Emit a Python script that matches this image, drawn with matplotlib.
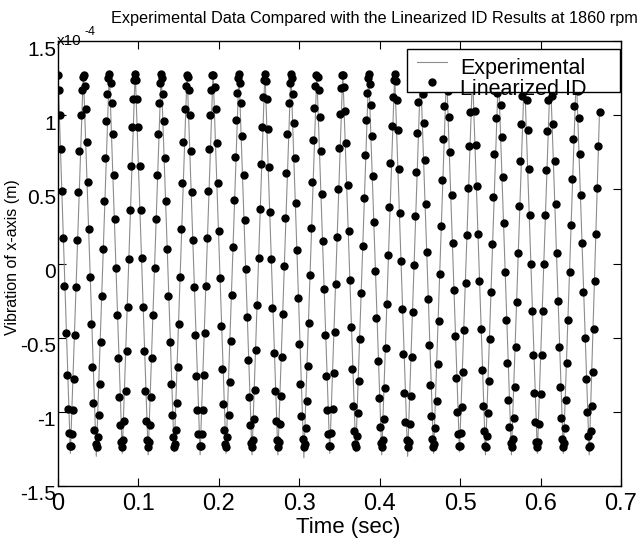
import numpy as np
import matplotlib
matplotlib.use('Agg')
import matplotlib.pyplot as plt
from matplotlib.patches import Rectangle
from matplotlib.lines import Line2D
from matplotlib.ticker import FuncFormatter
from matplotlib.transforms import ScaledTranslation

plt.rcParams['font.family'] = ['Liberation Sans', 'DejaVu Sans']

escala = 1e-4      # valores en unidades de 1e-4 m
fs_id = 750.0      # frecuencia de muestreo de los puntos del modelo (Hz)

# Experimental: vertices (picos y valles) de la traza, tiempo en seg
exp_t = [0.0, 0.0154, 0.0315, 0.0476, 0.0638, 0.0799, 0.0960, 0.1121, 0.1283,
         0.1444, 0.1605, 0.1767, 0.1928, 0.2089, 0.2250, 0.2412, 0.2573, 0.2734,
         0.2896, 0.3057, 0.3218, 0.3379, 0.3541, 0.3702, 0.3863, 0.4025, 0.4186,
         0.4347, 0.4508, 0.4670, 0.4831, 0.4992, 0.5154, 0.5315, 0.5476, 0.5637,
         0.5799, 0.5960, 0.6121, 0.6283, 0.6444, 0.6605, 0.6733]
exp_x = [1.28, -1.28, 1.29, -1.30, 1.30, -1.28, 1.30, -1.29, 1.29, -1.27,
         1.29, -1.29, 1.29, -1.28, 1.29, -1.29, 1.30, -1.29, 1.29, -1.31,
         1.28, -1.28, 1.29, -1.27, 1.29, -1.29, 1.28, -1.30, 1.29, -1.28,
         1.29, -1.27, 1.28, -1.29, 1.29, -1.29, 1.28, -1.28, 1.29, -1.28,
         1.28, -1.29, 1.03]

# Linearized ID: un valor por muestra
id_x = [
    1.27, 1.17, 1.00, 0.77, 0.49, 0.17, -0.15, -0.47, -0.75, -0.98, -1.14, -1.23,
    -1.23, -1.15, -0.99, -0.78, -0.48, -0.16, 0.16, 0.48, 0.76, 1.00, 1.17, 1.26,
    1.27, 1.20, 1.04, 0.82, 0.55, 0.23, -0.09, -0.41, -0.70, -0.94, -1.12, -1.22,
    -1.24, -1.17, -1.02, -0.81, -0.53, -0.22, 0.10, 0.42, 0.71, 0.96, 1.14, 1.25,
    1.28, 1.22, 1.08, 0.87, 0.60, 0.30, -0.03, -0.35, -0.64, -0.90, -1.09, -1.20,
    -1.24, -1.19, -1.06, -0.86, -0.59, -0.29, 0.03, 0.36, 0.66, 0.92, 1.11, 1.24,
    1.28, 1.24, 1.11, 0.92, 0.66, 0.36, 0.04, -0.29, -0.59, -0.86, -1.06, -1.19,
    -1.24, -1.20, -1.09, -0.90, -0.64, -0.35, -0.03, 0.30, 0.60, 0.87, 1.08, 1.22,
    1.28, 1.25, 1.14, 0.96, 0.71, 0.42, 0.10, -0.22, -0.53, -0.81, -1.02, -1.17,
    -1.24, -1.22, -1.12, -0.94, -0.70, -0.41, -0.09, 0.23, 0.54, 0.82, 1.04, 1.20,
    1.27, 1.26, 1.17, 1.00, 0.76, 0.48, 0.16, -0.16, -0.48, -0.76, -0.99, -1.15,
    -1.23, -1.23, -1.15, -0.99, -0.75, -0.47, -0.15, 0.17, 0.49, 0.77, 1.00, 1.17,
    1.27, 1.27, 1.19, 1.04, 0.81, 0.54, 0.22, -0.10, -0.42, -0.71, -0.95, -1.12,
    -1.22, -1.24, -1.17, -1.02, -0.80, -0.52, -0.21, 0.11, 0.43, 0.72, 0.97, 1.15,
    1.25, 1.28, 1.22, 1.08, 0.86, 0.60, 0.29, -0.04, -0.36, -0.65, -0.90, -1.09,
    -1.21, -1.24, -1.19, -1.05, -0.85, -0.58, -0.28, 0.04, 0.37, 0.67, 0.92, 1.12,
    1.24, 1.28, 1.23, 1.11, 0.91, 0.65, 0.35, 0.03, -0.30, -0.60, -0.86, -1.06,
    -1.19, -1.24, -1.20, -1.08, -0.89, -0.63, -0.34, -0.02, 0.31, 0.61, 0.87, 1.08,
    1.22, 1.28, 1.25, 1.14, 0.95, 0.71, 0.41, 0.09, -0.23, -0.54, -0.81, -1.03,
    -1.18, -1.24, -1.22, -1.11, -0.93, -0.69, -0.40, -0.08, 0.24, 0.55, 0.83, 1.05,
    1.20, 1.27, 1.26, 1.17, 0.99, 0.76, 0.47, 0.15, -0.17, -0.48, -0.76, -0.99,
    -1.15, -1.23, -1.23, -1.14, -0.98, -0.74, -0.46, -0.14, 0.18, 0.50, 0.78, 1.01,
    1.18, 1.27, 1.27, 1.19, 1.03, 0.81, 0.53, 0.22, -0.11, -0.43, -0.71, -0.96,
    -1.13, -1.22, -1.24, -1.16, -1.01, -0.79, -0.51, -0.20, 0.12, 0.44, 0.73, 0.97,
    1.15, 1.25, 1.28, 1.21, 1.07, 0.86, 0.59, 0.28, -0.05, -0.37, -0.66, -0.91,
    -1.10, -1.21, -1.24, -1.19, -1.05, -0.84, -0.57, -0.27, 0.06, 0.38, 0.68, 0.93,
    1.12, 1.24, 1.28, 1.23, 1.10, 0.90, 0.64, 0.34, 0.02, -0.31, -0.61, -0.87,
    -1.07, -1.19, -1.24, -1.20, -1.08, -0.89, -0.63, -0.33, -0.01, 0.32, 0.62, 0.88,
    1.09, 1.22, 1.28, 1.25, 1.14, 0.95, 0.70, 0.40, 0.08, -0.24, -0.55, -0.82,
    -1.03, -1.18, -1.24, -1.22, -1.11, -0.93, -0.68, -0.39, -0.07, 0.25, 0.56, 0.84,
    1.06, 1.20, 1.27, 1.26, 1.16, 0.99, 0.75, 0.46, 0.14, -0.18, -0.49, -0.77,
    -1.00, -1.15, -1.23, -1.23, -1.14, -0.97, -0.73, -0.45, -0.13, 0.19, 0.51, 0.79,
    1.02, 1.18, 1.27, 1.27, 1.19, 1.03, 0.80, 0.52, 0.20, -0.12, -0.44, -0.72,
    -0.96, -1.13, -1.23, -1.24, -1.16, -1.01, -0.79, -0.51, -0.19, 0.13, 0.45, 0.74,
    0.98, 1.15, 1.26, 1.28, 1.21, 1.07, 0.85, 0.58, 0.27, -0.06, -0.38, -0.67,
    -0.92, -1.10, -1.21, -1.24, -1.18, -1.04, -0.83, -0.56, -0.26, 0.07, 0.39, 0.69,
    0.94, 1.13, 1.24, 1.28, 1.23, 1.10, 0.90, 0.64, 0.33, 0.00, -0.32, -0.62,
    -0.87, -1.07, -1.20, -1.24, -1.20, -1.08, -0.88, -0.62, -0.32, 0.00, 0.33, 0.63,
    0.89, 1.10, 1.23, 1.28, 1.25, 1.13, 0.94, 0.69, 0.40, 0.07, -0.25, -0.56,
    -0.83, -1.04, -1.18, -1.24, -1.21, -1.11, -0.92, -0.67, -0.38, -0.06, 0.26, 0.57,
    0.84, 1.06, 1.21, 1.27, 1.26, 1.16, 0.98, 0.74, 0.46, 0.14, -0.19, -0.50,
    -0.78, -1.00, -1.16, -1.24, -1.23, -1.13, -0.96, -0.73, -0.44, -0.12, 0.20, 0.51,
    0.79, 1.02]

t_id = np.arange(len(id_x)) / fs_id

x_ticks = [0, 0.1, 0.2, 0.3, 0.4, 0.5, 0.6, 0.7]
y_ticks = [-1.5, -1, -0.5, 0, 0.5, 1, 1.5]

W, H = 643, 545
fig = plt.figure(figsize=(W/100, H/100), dpi=100)
ax = fig.add_axes([58/W, 1 - 486/H, 563/W, 445/H])

ax.plot(exp_t, np.array(exp_x)*escala, color='0.55', lw=0.8, zorder=2)
ax.plot(t_id, np.array(id_x)*escala, 'o', color='k', mec='k', ms=5.0, zorder=3)

ax.set_xlim(0, 0.7)
ax.set_ylim(-1.5*escala, 1.5*escala)
ax.set_xticks(x_ticks)
ax.set_yticks(np.array(y_ticks)*escala)
ax.xaxis.set_major_formatter(FuncFormatter(lambda v, p: f'{v:g}'))
ax.yaxis.set_major_formatter(FuncFormatter(lambda v, p: f'{v/escala:g}'))
ax.tick_params(direction='in', top=True, right=True, length=6, width=0.8)
ax.tick_params(axis='x', pad=5, labelsize=17)
ax.tick_params(axis='y', pad=1.5, labelsize=15)
for s in ax.spines.values():
    s.set_linewidth(1.0)

# etiquetas del eje y un poco mas abajo, como en MATLAB
baja = ScaledTranslation(0, -7/100, fig.dpi_scale_trans)
for lab in ax.get_yticklabels():
    lab.set_transform(lab.get_transform() + baja)

ax.set_xlabel('Time (sec)', fontsize=16)
ax.xaxis.set_label_coords(0.515, -0.094)
ax.xaxis.label.set_va('center')
ax.set_ylabel('Vibration of x-axis (m)', fontsize=11.5)
ax.yaxis.set_label_coords(-0.080, 0.515)
ax.yaxis.label.set_va('center')

# exponente estilo MATLAB
fig.text(57/W, 1 - 45/H, 'x10', fontsize=11, ha='left', va='baseline')
fig.text(85/W, 1 - 35/H, '-4', fontsize=9, ha='left', va='baseline')

fig.text(0.583, 1 - 19/H,
         'Experimental Data Compared with the Linearized ID Results at 1860 rpm',
         fontsize=11.7, ha='center', va='center')

# leyenda dibujada a mano (el texto se sale del recuadro como en el original)
ax.add_patch(Rectangle((0.620, 0.885), 0.378, 0.097, transform=ax.transAxes,
                       facecolor='white', edgecolor='k', lw=1.0, zorder=5,
                       clip_on=False))
ax.add_line(Line2D([0.638, 0.691], [0.953, 0.953], transform=ax.transAxes,
                   color='0.55', lw=0.8, zorder=6))
ax.add_line(Line2D([0.664], [0.908], transform=ax.transAxes, marker='o',
                   color='k', ms=5.0, ls='none', zorder=6))
ax.text(0.714, 0.939, 'Experimental', transform=ax.transAxes, fontsize=15.5,
        va='center', ha='left', zorder=7)
ax.text(0.714, 0.892, 'Linearized ID', transform=ax.transAxes, fontsize=15.5,
        va='center', ha='left', zorder=7)

fig.savefig('out.png', dpi=100)
